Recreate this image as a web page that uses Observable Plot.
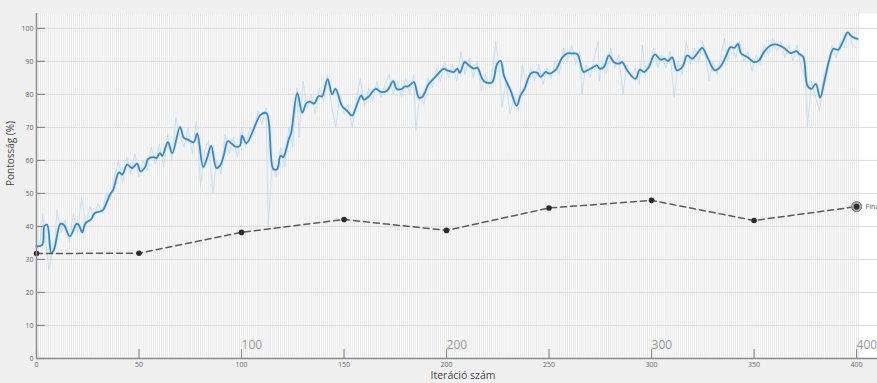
<!DOCTYPE html>
<html>
<head>
<meta charset="utf-8">
<script src="https://cdn.jsdelivr.net/npm/d3@7"></script>
<script src="https://cdn.jsdelivr.net/npm/@observablehq/plot@0.6"></script>
<style>
  html, body { margin: 0; padding: 0; background: #f0f0f0; overflow: hidden; }
  #chart svg { overflow: hidden; display: block; }
</style>
</head>
<body>
<div id="chart"></div>
<script>
// Smoothed accuracy (blue line)
const smoothIter = [0,2.8,3.9,5.2,7.2,8.5,11.7,13.3,16.3,19.5,20.6,22.3,23.9,26.7,28.3,31.2,32.5,35.8,37.4,40.2,41.8,44.2,46.7,49.1,50.7,53.2,54.3,57.2,58.5,60.2,61.3,64.1,66.2,70,71.9,73.8,76.7,78.4,81.3,83.2,85.2,87.8,89.8,91.4,93.3,95.4,97.1,99.2,100.3,102.4,109.3,112.2,115.5,117.4,119,120.3,123.1,124.2,127.2,129.6,131.7,133.3,135.3,137.7,139.3,142,144.2,145.8,149.1,151.2,154,155.6,158.4,159.7,162.1,165.4,168.1,171.1,174,175.6,178.4,179.5,181.2,182.4,184.1,186.5,188.1,191.4,194.6,198.7,200.3,203.6,205.2,206.5,208.8,210.9,213.3,215,217.4,219,222.3,224.7,226.4,228,231.2,234.2,236.1,237.8,241.4,244.3,245.9,248.4,250,253.3,256.5,258.9,261.4,263.8,266.8,268.7,271.2,273.3,274.6,276.8,279.2,281.6,284.1,285.7,288.1,292.2,294.3,296.3,298.7,301.6,304.4,306.3,308,310.1,312.3,315,317.4,319.9,322.3,324.7,327.2,330.8,333.7,336.1,338.5,340.5,342.1,343.7,346.7,349.9,352.4,354.8,358,361.3,364.5,367.8,370.7,371.9,374,376,378,380.1,382.2,384.2,386.6,388.7,391,393.2,395.6,397.2,398.9,400.5];
const smoothVal = [34,34.4,40.2,40.5,31.9,32.9,40.8,40.5,37,40.8,40.5,38.2,41,42.2,44,44.6,45,49.6,51.1,56.4,55.7,58.7,57.7,59,56.7,58.2,60.4,61,60.7,62.2,61.4,65.5,62.2,70.1,66.8,66.3,65.5,68.1,58,60.7,64.4,57.7,58.7,61.7,65.8,65,64.2,64.4,67.5,65.2,73.8,74.3,57.4,57.4,61.4,61,66.5,68.3,80.4,74.5,77.4,77.8,77.2,79.5,79.4,84.6,80,81.7,76.4,75.2,73.6,75.7,79.7,78.4,79.4,81.7,80.7,81.2,84,81.7,81.7,82.4,82.4,83,83.7,79,79.2,83.2,85.3,87.8,87.3,86.8,87.8,86.5,89.8,88.8,87.8,88.1,84.7,83.7,83.7,89.3,90.1,85.7,81.2,76.6,79.7,81.4,86.5,86.5,85.3,86.8,86.3,87.5,91.2,92.4,92.4,92.2,86.8,87.3,88.1,88.8,87.8,88.3,91.8,89.8,89.3,89.8,87.3,84.7,87.5,86.8,88.3,92.1,90.5,90.8,90.1,91.2,87.3,88.3,91.8,90.8,92.4,94.1,91.3,87.3,88.5,91.3,94.3,94.1,95.3,92.4,91.3,89.8,90.3,92.8,94.8,95.1,94.1,92.5,93.1,92.3,91.3,82.7,81.7,83.2,79,83.7,90.3,93.8,93.5,95.8,98.8,97.8,97.1,96.8];

// Raw accuracy (faint light-blue line)
const rawIter = [0,2,3,4,6,7,9,10,12,14,16,18,20,22,24,26,28,30,32,34,36,38,40,42,44,46,48,50,52,54,56,58,60,62,64,66,68,70,72,74,76,78,80,82,84,86,88,90,92,94,96,98,100,102,104,106,108,110,112,113,115,117,119,121,123,125,127,128,130,132,134,136,138,140,142,144,146,148,150,152,154,156,158,160,162,164,166,168,170,172,174,176,178,180,182,184,185,187,189,191,193,195,197,199,201,203,205,207,209,211,213,215,217,219,221,223,224,226,227,229,231,233,235,237,239,241,243,245,247,249,251,253,255,257,259,261,263,265,266,268,270,272,274,274.5,276,278,280,282,284,286,288,290,292,294,295.5,297,299,301,303,305,307,309,311,313,315,317,319,321,323,325,327,328,330,332,334,335.5,337,339,341,343,345,347,349,351,353,355,357,359,361,363,365,367,369,371,373,375,376,378,380,382,384,386,388,390,392,394,396,398,400];
const rawVal = [33,36,44,38,27,30,36,45,38,42,35,44,38,49,40,46,43,47,44,50,48,55,60,53,61,56,62,55,60,57,64,59,65,58,68,60,73,67,64,70,62,72,52,63,66,50,60,56,68,62,67,61,70,64,70,68,75,71,76,40,60,55,64,58,70,64,82,67,84,76,80,74,82,78,86,76,70,80,74,77,70,78,85,76,82,78,84,79,83,86,80,84,79,85,80,86,69,80,77,85,82,88,84,90,85,89,84,93,86,91,85,90,81,86,82,90,96,86,76,84,74,80,75,89,82,88,84,89,83,88,85,90,86,94,90,95,89,93,80,89,85,91,96,84,90,86,94,88,92,80,89,85,88,83,95,86,90,94,88,92,88,93,79,90,86,96,89,94,90,96,89,84,90,86,92,97,90,95,91,96,90,93,87,92,89,95,92,97,93,96,91,95,90,95,88,85,70,84,79,75,86,88,95,91,96,94,99,95,94];

// Evaluation checkpoints (dashed line)
const evalIter = [0,50,100,150,200,250,300,350,400];
const evalVal = [31.8,31.9,38.2,42.1,38.8,45.6,47.9,41.8,46];
const finalLabel = "Final";

// Axis ticks and labels
const yTicks = [0,10,20,30,40,50,60,70,80,90,100];
const xTicks = [0,50,100,150,200,250,300,350,400];
const bigLabels = [100,200,300,400];
const xLabel = "Iteráció szám";
const yLabel = "Pontosság (%)";

const smooth = smoothIter.map((x,i)=>({x, y: smoothVal[i]}));
const raw = rawIter.map((x,i)=>({x, y: rawVal[i]}));
const evals = evalIter.map((x,i)=>({x, y: evalVal[i]}));
const last = evals[evals.length-1];
const gridIters = d3.range(0, 402, 1);

const font = "'Open Sans', 'Segoe UI', sans-serif";

const chart = Plot.plot({
  width: 877,
  height: 383,
  marginLeft: 36,
  marginRight: 0,
  marginTop: 13,
  marginBottom: 25,
  style: {background: "#f0f0f0", fontFamily: font, fontSize: "7px", color: "#666", overflow: "hidden"},
  x: {domain: [0, 410.2], ticks: xTicks, tickSize: 0, tickPadding: 4, label: null},
  y: {domain: [0, 104.5], ticks: yTicks, tickSize: 0, tickPadding: 3, label: null},
  marks: [
    Plot.frame({fill: "white", stroke: "none"}),
    Plot.ruleX(gridIters, {x: d=>d, stroke: "#e0e0e0", strokeWidth: 0.8}),
    Plot.ruleY(yTicks, {y: d=>d, stroke: "#dcdcdc", strokeWidth: 1}),
    Plot.line(raw, {x: "x", y: "y", stroke: "#b9d8ec", strokeWidth: 1, strokeOpacity: 0.75}),
    Plot.line(smooth, {x: "x", y: "y", stroke: "#c9e2f2", strokeWidth: 4, strokeOpacity: 0.6, curve: "catmull-rom"}),
    Plot.line(smooth, {x: "x", y: "y", stroke: "#3a89bd", strokeWidth: 1.8, curve: "catmull-rom"}),
    Plot.line(evals, {x: "x", y: "y", stroke: "#5a5a5a", strokeWidth: 1.5, strokeDasharray: "6,4"}),
    Plot.dot([last], {x: "x", y: "y", r: 5, fill: "#aaaaaa", stroke: "#777", strokeWidth: 1}),
    Plot.dot(evals, {x: "x", y: "y", r: 2.8, fill: "#2b2b2b"}),
    Plot.text([last], {x: "x", y: "y", text: () => finalLabel, dx: 9, textAnchor: "start", fontSize: 7, fill: "#555"}),
    Plot.ruleX([0], {x: d=>d, stroke: "#8a8a8a", strokeWidth: 1.5}),
    Plot.ruleY([0], {y: d=>d, stroke: "#8a8a8a", strokeWidth: 1.5}),
    Plot.ruleY(yTicks, {y: d=>d, x1: 0, x2: 4.4, stroke: "#8a8a8a", strokeWidth: 1.2}),
    Plot.ruleX(xTicks, {x: d=>d, y1: 0, y2: 2.7, stroke: "#8a8a8a", strokeWidth: 1.2}),
    Plot.text(bigLabels, {x: d=>d, y: 0, text: d=>String(d), dx: 0, dy: -13, textAnchor: "start", fontSize: 12, fill: "#999"}),
    Plot.text([xLabel], {frameAnchor: "bottom", text: d=>d, dx: 6, dy: 20.5, fontSize: 10.5, fill: "#444"}),
    Plot.text([yLabel], {frameAnchor: "left", text: d=>d, rotate: -90, dx: -26, dy: 0, fontSize: 10, fill: "#444"})
  ]
});
document.getElementById("chart").appendChild(chart);
</script>
</body>
</html>
